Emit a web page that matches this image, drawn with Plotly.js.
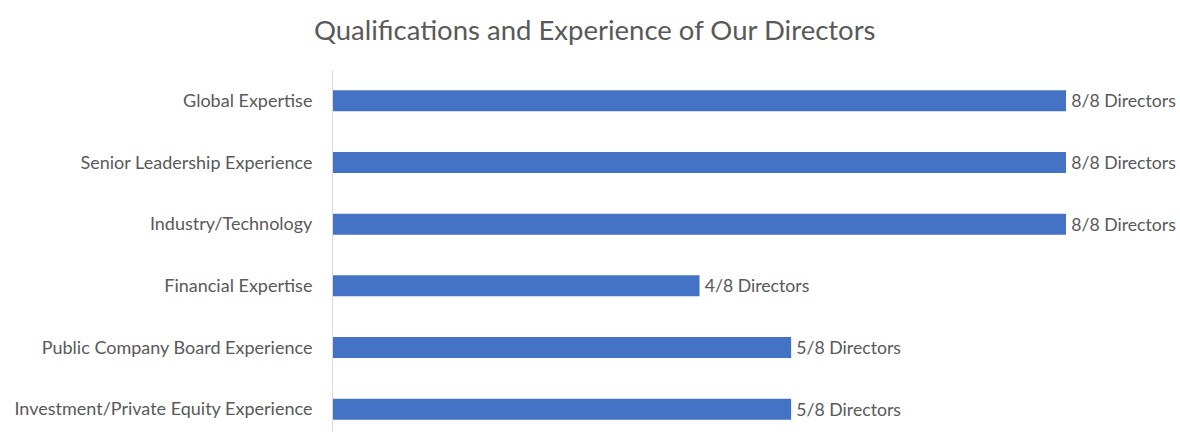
<!DOCTYPE html>
<html>
<head>
<meta charset="utf-8">
<script src="https://cdn.plot.ly/plotly-3.0.1.min.js"></script>
<style>html,body{margin:0;padding:0;background:#fff;}#chart{width:1180px;height:432px;}</style>
</head>
<body>
<div id="chart"></div>
<script>
const categories = [
  "Global Expertise",
  "Senior Leadership Experience",
  "Industry/Technology",
  "Financial Expertise",
  "Public Company Board Experience",
  "Investment/Private Equity Experience"
];
const directorCounts = [8, 8, 8, 4, 5, 5];
const totalDirectors = 8;
const valueLabels = directorCounts.map(v => "\u2009" + v + "/" + totalDirectors + " Directors");

const FONT = "Lato, 'Open Sans', sans-serif";
const GRAY = "#595959";

const trace = {
  type: "bar",
  orientation: "h",
  y: categories,
  x: directorCounts,
  text: valueLabels,
  textposition: "outside",
  cliponaxis: false,
  textfont: {family: FONT, size: 17.7, color: GRAY},
  marker: {color: "#4472C4"},
  width: 0.34,
  hoverinfo: "skip"
};

const layout = {
  width: 1180,
  height: 432,
  margin: {l: 333, r: 114, t: 70, b: 0, pad: 0},
  paper_bgcolor: "#fff",
  plot_bgcolor: "#fff",
  showlegend: false,
  title: {
    text: "Qualifications and Experience of Our Directors",
    font: {family: FONT, size: 27.5, color: GRAY},
    x: 0.504, xanchor: "center",
    y: 0.93, yanchor: "middle"
  },
  xaxis: {
    range: [0, totalDirectors],
    visible: false,
    fixedrange: true
  },
  yaxis: {
    type: "category",
    range: [5.37, -0.5],
    showline: true,
    linecolor: "#d9d9d9",
    linewidth: 1,
    showgrid: false,
    zeroline: false,
    ticks: "",
    ticklabelstandoff: 16,
    tickfont: {family: FONT, size: 18, color: GRAY},
    fixedrange: true
  }
};

Plotly.newPlot("chart", [trace], layout, {displayModeBar: false, staticPlot: true});
</script>
</body>
</html>
